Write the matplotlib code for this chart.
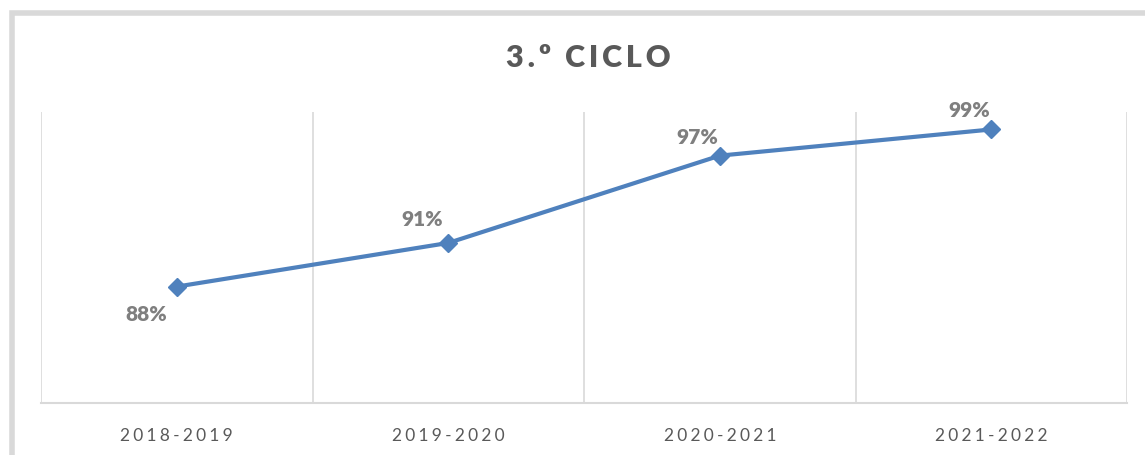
import matplotlib.pyplot as plt
from matplotlib.patches import Rectangle

# data
anos = ["2018-2019", "2019-2020", "2020-2021", "2021-2022"]
taxa = [88.0, 91.0, 97.0, 98.8]
rotulos = ["88%", "91%", "97%", "99%"]

plt.rcParams['font.family'] = ['Lato', 'DejaVu Sans']

W, H = 1145, 455
fig = plt.figure(figsize=(W / 100, H / 100), dpi=100)

# chart border (cut off at right and bottom like the screenshot)
fig.patches.append(Rectangle((11.5 / W, -0.1), 1.2, (H - 13) / H + 0.1,
                             transform=fig.transFigure, fill=False,
                             edgecolor="#d9d9d9", linewidth=4, zorder=0))

ax = fig.add_axes([41 / W, (H - 403) / H, (1127 - 41) / W, (403 - 112) / H])
x = range(len(anos))
ax.plot(x, taxa, color="#4f81bd", linewidth=3, marker="D", markersize=9,
        zorder=3)

ax.set_xlim(-0.5, len(anos) - 0.5)
ax.set_ylim(80, 100)

# vertical gridlines between categories
for b in [i - 0.5 for i in range(len(anos) + 1)]:
    ax.axvline(b, color="#d9d9d9", linewidth=1.2, zorder=1)

for s in ["top", "right", "left"]:
    ax.spines[s].set_visible(False)
ax.spines["bottom"].set_color("#d9d9d9")
ax.spines["bottom"].set_linewidth(1.5)
ax.set_yticks([])
ax.set_xticks(list(x))
ax.set_xticklabels(["\u2009\u200a".join(a) for a in anos], color="#595959",
                   fontsize=12.5)
ax.tick_params(axis="x", length=0, pad=18)

# data labels
offs = [(-22, -20), (-19, 17), (-16, 13), (-16, 14)]
for i, (v, r) in enumerate(zip(taxa, rotulos)):
    ax.annotate(r, (i, v), xytext=offs[i], textcoords="offset points",
                ha="center", va="center", fontsize=15, fontweight="heavy",
                color="#7f7f7f")

fig.text(588 / W, 1 - 58 / H, "\u2009".join("3.º CICLO").replace("\u2009 \u2009", "  "),
         ha="center", va="center", fontsize=22, fontweight="heavy",
         color="#595959")

fig.savefig("out.png", dpi=100)
